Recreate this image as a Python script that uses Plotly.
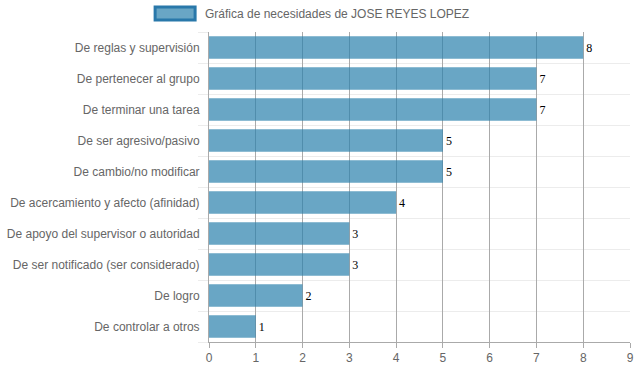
import plotly.graph_objects as go

categories = [
    "De reglas y supervisión",
    "De pertenecer al grupo",
    "De terminar una tarea",
    "De ser agresivo/pasivo",
    "De cambio/no modificar",
    "De acercamiento y afecto (afinidad)",
    "De apoyo del supervisor o autoridad",
    "De ser notificado (ser considerado)",
    "De logro",
    "De controlar a otros",
]
values = [8, 7, 7, 5, 5, 4, 3, 3, 2, 1]
series_name = "Gráfica de necesidades de JOSE REYES LOPEZ"
x_ticks = list(range(0, 10))

n = len(categories)
ypos = list(range(n))  # 0 = top

fig = go.Figure()
fig.add_trace(go.Bar(
    x=values, y=ypos, orientation="h",
    marker=dict(color="rgba(41,128,172,0.7)", line=dict(width=0)),
    width=0.72,
    text=[str(v) for v in values], textposition="outside",
    textfont=dict(family="Liberation Serif", size=12, color="#000"),
    cliponaxis=False,
    name=series_name, showlegend=False,
))

fig.update_layout(
    width=637, height=371,
    margin=dict(l=209, r=7, t=32, b=29),
    paper_bgcolor="white", plot_bgcolor="white",
    font=dict(family="Liberation Sans, Arial", size=12, color="#666"),
    xaxis=dict(
        range=[0, 9], tickvals=x_ticks, showgrid=True, gridcolor="#aaa", gridwidth=1,
        showline=True, linecolor="#aaa", ticks="outside", ticklen=5, tickcolor="#aaa",
        zeroline=False, tickfont=dict(size=12, color="#666"), automargin=False,
    ),
    yaxis=dict(
        range=[n - 0.5, -0.5], tickvals=ypos, ticktext=categories,
        showgrid=False, zeroline=False, showline=True, linecolor="#aaa",
        ticks="", ticklabelstandoff=6, automargin=False,
        minor=dict(tick0=0.5, dtick=1, showgrid=True, gridcolor="#ececec", gridwidth=1,
                   ticks="outside", ticklen=10, tickcolor="#ececec"),
        tickfont=dict(size=12, color="#666"),
    ),
    shapes=[dict(type="rect", xref="paper", yref="paper",
                 x0=-0.128, x1=-0.033, y0=1.039, y1=1.081,
                 fillcolor="rgba(41,128,172,0.7)", line=dict(color="rgb(41,120,170)", width=3))],
    annotations=[dict(text=series_name, xref="paper", yref="paper", x=-0.014, y=1.058,
                      xanchor="left", yanchor="middle", showarrow=False,
                      font=dict(size=12, color="#666"))],
)

fig.write_html("out.html", config={"displayModeBar": False},
               post_script="document.body.style.margin='0';")
